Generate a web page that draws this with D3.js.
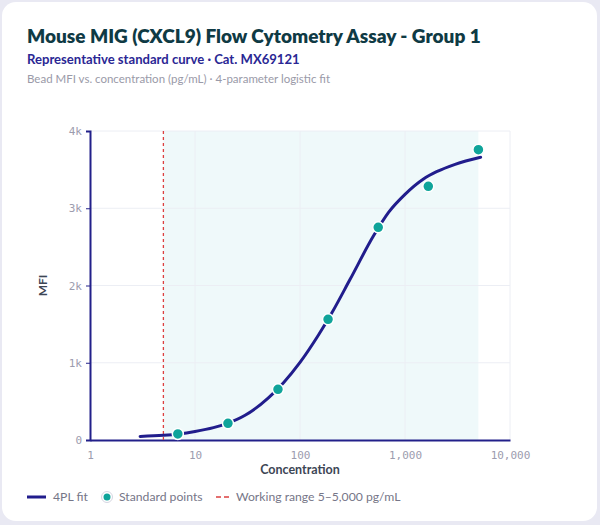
<!DOCTYPE html>
<html lang="en">
<head>
  <meta charset="UTF-8">
  <title>mig-cxcl9-standard-curve</title>
  <script src="https://cdn.jsdelivr.net/npm/d3@7"></script>
  <style>
    body { margin: 0; background: #e9e9f3; }
    #chart { width: 600px; height: 525px; }
  </style>
</head>
<body>
<div id="chart"></div>
<script>
    // standard points (threefold dilutions from 5,000 pg/mL)
    let std_conc = [6.86, 20.6, 61.7, 185, 556, 1667, 5000];
    let std_mfi = [78, 216, 656, 1562, 2753, 3284, 3758];

    // 4PL fit
    let fit_conc = [3, 5, 7, 10, 15, 20, 30, 50, 70, 100, 150, 200, 300, 500, 700, 1000, 1500, 2000, 3000, 5250];
    let fit_mfi = [45, 60, 78, 110, 160, 212, 320, 545, 745, 1005, 1360, 1640, 2080, 2640, 2950, 3180, 3379, 3473, 3569, 3660];

    let range_lo = 5, range_hi = 5000;
    let x_ticks = [1, 10, 100, 1000, 10000];
    let y_ticks = [0, 1000, 2000, 3000, 4000];

    let width = 600, height = 525;
    let m = {left: 90, right: 90, top: 131, bottom: 85};

    let svg = d3.select("#chart").append("svg")
        .attr("width", width).attr("height", height)
        .style("font-family", "Lato, 'Noto Sans', sans-serif");

    svg.append("rect").attr("x", 2).attr("y", 2).attr("width", 595).attr("height", 519)
        .attr("rx", 14).attr("fill", "#fff");

    // titles
    svg.append("text").attr("x", 27).attr("y", 43).text("Mouse MIG (CXCL9) Flow Cytometry Assay - Group 1")
        .attr("font-size", 19).attr("font-weight", 800).attr("fill", "#0f3a44");
    svg.append("text").attr("x", 27).attr("y", 64).text("Representative standard curve · Cat. MX69121")
        .attr("font-size", 13.1).attr("font-weight", 700).attr("fill", "#2a2794");
    svg.append("text").attr("x", 27).attr("y", 83).text("Bead MFI vs. concentration (pg/mL) · 4-parameter logistic fit")
        .attr("font-size", 11.5).attr("fill", "#9a9aa8");

    let x = d3.scaleLog().domain([1, 10000]).range([m.left, width - m.right]);
    let y = d3.scaleLinear().domain([0, 4000]).range([height - m.bottom, m.top]);
    let y0 = y(0);

    // working range band
    svg.append("rect").attr("x", x(range_lo)).attr("y", y(4000))
        .attr("width", x(range_hi) - x(range_lo)).attr("height", y0 - y(4000))
        .attr("fill", "#eff9fa");

    // grid
    svg.append("g").selectAll("line").data(y_ticks.slice(1)).join("line")
        .attr("x1", x(1)).attr("x2", x(10000)).attr("y1", d => y(d)).attr("y2", d => y(d))
        .attr("stroke", "#eceef4").attr("stroke-width", 1);
    svg.append("g").selectAll("line").data(x_ticks.slice(1)).join("line")
        .attr("x1", d => x(d)).attr("x2", d => x(d)).attr("y1", y(4000)).attr("y2", y0)
        .attr("stroke", "#eceef4").attr("stroke-width", 1);

    // axes
    let fmt = d3.format(",");
    let xAxis = svg.append("g").attr("transform", "translate(0," + y0 + ")")
        .call(d3.axisBottom(x).tickValues(x_ticks).tickFormat(fmt).tickSize(0).tickPadding(11));
    let yAxis = svg.append("g").attr("transform", "translate(" + x(1) + ",0)")
        .call(d3.axisLeft(y).tickValues(y_ticks).tickFormat(d => d === 0 ? "0" : d / 1000 + "k").tickSize(4).tickPadding(4));
    [xAxis, yAxis].forEach(a => {
        a.select(".domain").attr("stroke", "#22208a").attr("stroke-width", 2);
        a.selectAll(".tick line").attr("stroke", "#22208a");
        a.selectAll("text").attr("fill", "#9c9cae").attr("font-size", 11)
            .attr("font-family", "'DejaVu Sans Mono', monospace");
    });

    svg.append("text").attr("x", (x(1) + x(10000)) / 2).attr("y", 474).attr("text-anchor", "middle")
        .text("Concentration").attr("font-size", 12.5).attr("font-weight", 700).attr("fill", "#3d4655");
    svg.append("text").attr("transform", "translate(47," + y(2000) + ") rotate(-90)")
        .attr("text-anchor", "middle").text("MFI")
        .attr("font-size", 12).attr("font-weight", 700).attr("fill", "#3d4655");

    // working range marker (low end)
    svg.append("line").attr("x1", x(range_lo)).attr("x2", x(range_lo)).attr("y1", y(4000)).attr("y2", y0)
        .attr("stroke", "#dc4040").attr("stroke-width", 1.3).attr("stroke-dasharray", "3,3");

    // fit curve
    let line = d3.line().x((d, i) => x(fit_conc[i])).y(d => y(d)).curve(d3.curveMonotoneX);
    svg.append("path").attr("d", line(fit_mfi)).attr("fill", "none")
        .attr("stroke", "#211d8c").attr("stroke-width", 3).attr("stroke-linecap", "round");

    // standard points
    svg.append("g").selectAll("circle").data(std_mfi).join("circle")
        .attr("cx", (d, i) => x(std_conc[i])).attr("cy", d => y(d)).attr("r", 5.5)
        .attr("fill", "#0fa49a").attr("stroke", "#fff").attr("stroke-width", 1.5);

    // legend
    let lg = svg.append("g").attr("transform", "translate(0,497)");
    lg.append("line").attr("x1", 27).attr("x2", 46).attr("y1", 0).attr("y2", 0)
        .attr("stroke", "#211d8c").attr("stroke-width", 3);
    lg.append("text").attr("x", 53).attr("y", 4.3).text("4PL fit");
    lg.append("circle").attr("cx", 107).attr("cy", 0).attr("r", 5.5).attr("fill", "#fff").attr("stroke", "#d6d6e2");
    lg.append("circle").attr("cx", 107).attr("cy", 0).attr("r", 3.5).attr("fill", "#0fa49a");
    lg.append("text").attr("x", 119).attr("y", 4.3).text("Standard points");
    lg.append("line").attr("x1", 216).attr("x2", 229).attr("y1", 0).attr("y2", 0)
        .attr("stroke", "#dc4040").attr("stroke-width", 1.5).attr("stroke-dasharray", "5,3");
    lg.append("text").attr("x", 236).attr("y", 4.3).text("Working range 5–5,000 pg/mL");
    lg.selectAll("text").attr("font-size", 12.2).attr("fill", "#767688");
</script>
</body>
</html>
